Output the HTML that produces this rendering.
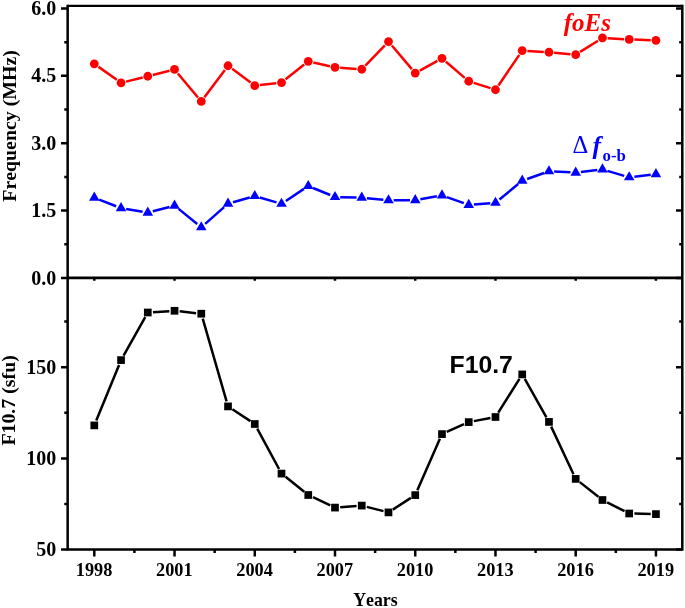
<!DOCTYPE html>
<html lang="en"><head><meta charset="utf-8"><title>foEs, Δf o-b and F10.7 vs Years</title>
<style>html,body{margin:0;padding:0;background:#fff}svg{display:block}</style></head>
<body>
<svg width="685" height="608" viewBox="0 0 685 608">
<rect width="685" height="608" fill="#fff"/>
<g stroke="#000" stroke-width="2.5" fill="none" stroke-linecap="butt">
<path d="M67.65 4.65V550.85M682.3 4.65V550.85M67.65 549.6H682.3"/>
<path d="M67.65 5.9H682.3" stroke-width="2.3"/>
<path d="M67.65 277.8H682.3" stroke-width="2.7"/>
<path d="M61 277.90H67.65M682.3 277.90H676.00M61 210.55H67.65M682.3 210.55H676.00M61 143.20H67.65M682.3 143.20H676.00M61 75.85H67.65M682.3 75.85H676.00M61 8.50H67.65M682.3 8.50H676.00M64.3 244.22H67.65M682.3 244.22H679.20M64.3 176.88H67.65M682.3 176.88H679.20M64.3 109.52H67.65M682.3 109.52H679.20M64.3 42.17H67.65M682.3 42.17H679.20M61 549.60H67.65M682.3 549.60H676.00M61 458.40H67.65M682.3 458.40H676.00M61 367.20H67.65M682.3 367.20H676.00M64.3 504.00H67.65M682.3 504.00H679.20M64.3 412.80H67.65M682.3 412.80H679.20M64.3 321.60H67.65M682.3 321.60H679.20M94.30 549.6V556.5M94.30 277.8V280.8M174.53 549.6V556.5M174.53 277.8V280.8M254.77 549.6V556.5M254.77 277.8V280.8M335.00 549.6V556.5M335.00 277.8V280.8M415.24 549.6V556.5M415.24 277.8V280.8M495.48 549.6V556.5M495.48 277.8V280.8M575.71 549.6V556.5M575.71 277.8V280.8M655.94 549.6V556.5M655.94 277.8V280.8M134.42 549.6V553M214.65 549.6V553M294.89 549.6V553M375.12 549.6V553M455.36 549.6V553M535.59 549.6V553M615.83 549.6V553"/>
</g>
<path d="M98.54 66.86L116.81 79.84M126.09 81.60L142.74 77.50M152.83 74.97L169.50 70.73M177.87 73.44L197.95 97.46M204.40 97.29L224.91 69.91M232.20 68.85L250.60 82.55M259.94 85.05L276.35 83.15M285.59 79.32L304.18 64.58M313.33 62.49L329.93 66.21M340.19 67.72L356.56 68.88M365.36 65.51L384.88 45.29M391.86 45.51L411.87 69.09M419.80 70.55L437.43 60.85M445.93 61.73L464.78 77.87M473.69 82.83L490.52 88.17M498.41 85.45L519.29 54.85M527.41 50.88L543.78 51.92M554.14 52.71L570.53 54.19M580.12 51.90L598.04 40.70M607.65 38.24L624.01 39.16M634.40 39.62L650.75 40.18" stroke="#f00" stroke-width="2.5" fill="none"/>
<path d="M99.15 199.58L116.20 206.22M126.17 208.96L142.66 211.74M152.82 211.28L169.50 206.92M178.57 208.88L197.24 224.02M205.18 223.86L224.13 207.14M233.02 202.26L249.77 197.44M259.76 197.46L276.52 202.34M285.84 200.92L303.93 188.88M313.07 187.98L330.20 195.02M340.20 197.14L356.55 197.56M366.93 198.20L383.32 199.80M393.69 200.26L410.04 200.14M420.36 199.20L436.86 196.30M446.89 197.14L463.83 203.16M473.91 204.49L490.29 203.21M499.48 199.49L518.21 184.01M527.13 178.98L544.06 173.02M554.16 171.55L570.52 172.35M580.87 171.98L597.29 170.02M607.44 170.87L624.21 175.83M634.37 176.70L650.78 174.80" stroke="#00f" stroke-width="2.5" fill="none"/>
<path d="M96.27 420.59L119.07 364.91M123.59 355.57L145.24 317.03M152.98 312.17L169.35 311.13M179.70 311.36L196.11 313.14M202.72 318.70L226.58 401.40M232.37 409.26L250.43 421.14M257.24 428.58L279.05 469.02M285.58 476.85L304.20 491.75M312.96 497.22L330.30 505.38M340.19 507.21L356.56 505.99M366.79 506.88L383.46 511.12M392.86 509.58L410.87 497.92M417.33 490.34L439.90 438.86M446.73 431.97L463.99 424.23M473.84 421.13L490.37 417.97M498.24 412.60L519.46 378.80M524.77 378.93L546.41 417.37M551.17 426.61L573.50 474.19M579.79 482.12L598.37 496.78M607.10 502.34L624.56 511.16M634.40 513.62L650.75 513.98" stroke="#000" stroke-width="2.5" fill="none"/>
<g fill="#f00"><circle cx="94.30" cy="63.85" r="4.4"/><circle cx="121.05" cy="82.85" r="4.4"/><circle cx="147.79" cy="76.25" r="4.4"/><circle cx="174.53" cy="69.45" r="4.4"/><circle cx="201.28" cy="101.45" r="4.4"/><circle cx="228.02" cy="65.75" r="4.4"/><circle cx="254.77" cy="85.65" r="4.4"/><circle cx="281.51" cy="82.55" r="4.4"/><circle cx="308.26" cy="61.35" r="4.4"/><circle cx="335.00" cy="67.35" r="4.4"/><circle cx="361.75" cy="69.25" r="4.4"/><circle cx="388.50" cy="41.55" r="4.4"/><circle cx="415.24" cy="73.05" r="4.4"/><circle cx="441.99" cy="58.35" r="4.4"/><circle cx="468.73" cy="81.25" r="4.4"/><circle cx="495.48" cy="89.75" r="4.4"/><circle cx="522.22" cy="50.55" r="4.4"/><circle cx="548.97" cy="52.25" r="4.4"/><circle cx="575.71" cy="54.65" r="4.4"/><circle cx="602.46" cy="37.95" r="4.4"/><circle cx="629.20" cy="39.45" r="4.4"/><circle cx="655.94" cy="40.35" r="4.4"/></g>
<g fill="#00f"><path d="M94.30 191.60L99.58 200.75H89.02Z"/><path d="M121.05 202.00L126.33 211.15H115.76Z"/><path d="M147.79 206.50L153.07 215.65H142.51Z"/><path d="M174.53 199.50L179.82 208.65H169.25Z"/><path d="M201.28 221.20L206.56 230.35H196.00Z"/><path d="M228.02 197.60L233.31 206.75H222.74Z"/><path d="M254.77 189.90L260.05 199.05H249.49Z"/><path d="M281.51 197.70L286.80 206.85H276.23Z"/><path d="M308.26 179.90L313.54 189.05H302.98Z"/><path d="M335.00 190.90L340.29 200.05H329.72Z"/><path d="M361.75 191.60L367.03 200.75H356.47Z"/><path d="M388.50 194.20L393.78 203.35H383.21Z"/><path d="M415.24 194.00L420.52 203.15H409.96Z"/><path d="M441.99 189.30L447.27 198.45H436.70Z"/><path d="M468.73 198.80L474.01 207.95H463.45Z"/><path d="M495.48 196.70L500.76 205.85H490.19Z"/><path d="M522.22 174.60L527.50 183.75H516.94Z"/><path d="M548.97 165.20L554.25 174.35H543.68Z"/><path d="M575.71 166.50L580.99 175.65H570.43Z"/><path d="M602.46 163.30L607.74 172.45H597.17Z"/><path d="M629.20 171.20L634.48 180.35H623.92Z"/><path d="M655.94 168.10L661.23 177.25H650.66Z"/></g>
<g fill="#000"><rect x="90.45" y="421.55" width="7.7" height="7.7"/><rect x="117.20" y="356.25" width="7.7" height="7.7"/><rect x="143.94" y="308.65" width="7.7" height="7.7"/><rect x="170.69" y="306.95" width="7.7" height="7.7"/><rect x="197.43" y="309.85" width="7.7" height="7.7"/><rect x="224.17" y="402.55" width="7.7" height="7.7"/><rect x="250.92" y="420.15" width="7.7" height="7.7"/><rect x="277.66" y="469.75" width="7.7" height="7.7"/><rect x="304.41" y="491.15" width="7.7" height="7.7"/><rect x="331.15" y="503.75" width="7.7" height="7.7"/><rect x="357.90" y="501.75" width="7.7" height="7.7"/><rect x="384.64" y="508.55" width="7.7" height="7.7"/><rect x="411.39" y="491.25" width="7.7" height="7.7"/><rect x="438.13" y="430.25" width="7.7" height="7.7"/><rect x="464.88" y="418.25" width="7.7" height="7.7"/><rect x="491.62" y="413.15" width="7.7" height="7.7"/><rect x="518.37" y="370.55" width="7.7" height="7.7"/><rect x="545.12" y="418.05" width="7.7" height="7.7"/><rect x="571.86" y="475.05" width="7.7" height="7.7"/><rect x="598.61" y="496.15" width="7.7" height="7.7"/><rect x="625.35" y="509.65" width="7.7" height="7.7"/><rect x="652.09" y="510.25" width="7.7" height="7.7"/></g>
<g font-family="'Liberation Serif', 'Times New Roman', serif" font-weight="bold" fill="#000" style="font-kerning:none">
<text transform="translate(56.2 284.50) scale(1 1.04)" font-size="20.0" text-anchor="end">0.0</text>
<text transform="translate(56.2 217.15) scale(1 1.04)" font-size="20.0" text-anchor="end">1.5</text>
<text transform="translate(56.2 149.80) scale(1 1.04)" font-size="20.0" text-anchor="end">3.0</text>
<text transform="translate(56.2 82.45) scale(1 1.04)" font-size="20.0" text-anchor="end">4.5</text>
<text transform="translate(56.2 15.10) scale(1 1.04)" font-size="20.0" text-anchor="end">6.0</text>
<text transform="translate(56.2 556.20) scale(1 1.04)" font-size="20.0" text-anchor="end">50</text>
<text transform="translate(56.2 465.00) scale(1 1.04)" font-size="20.0" text-anchor="end">100</text>
<text transform="translate(56.2 373.80) scale(1 1.04)" font-size="20.0" text-anchor="end">150</text>
<text transform="translate(94.10 576) scale(1 1.06)" font-size="18.3" text-anchor="middle">1998</text>
<text transform="translate(174.34 576) scale(1 1.06)" font-size="18.3" text-anchor="middle">2001</text>
<text transform="translate(254.57 576) scale(1 1.06)" font-size="18.3" text-anchor="middle">2004</text>
<text transform="translate(334.81 576) scale(1 1.06)" font-size="18.3" text-anchor="middle">2007</text>
<text transform="translate(415.04 576) scale(1 1.06)" font-size="18.3" text-anchor="middle">2010</text>
<text transform="translate(495.28 576) scale(1 1.06)" font-size="18.3" text-anchor="middle">2013</text>
<text transform="translate(575.51 576) scale(1 1.06)" font-size="18.3" text-anchor="middle">2016</text>
<text transform="translate(655.74 576) scale(1 1.06)" font-size="18.3" text-anchor="middle">2019</text>
<text transform="translate(16.45 201.7) rotate(-90)" font-size="19.85">Frequency (MHz)</text>
<text transform="translate(15.1 445.6) rotate(-90)" font-size="19.85">F10.7 (sfu)</text>
<text x="375.4" y="606.4" text-anchor="middle" font-size="17.8">Years</text>
</g>
<text x="563.8" y="31.35" font-family="'Liberation Serif', 'Times New Roman', serif" font-weight="bold" font-style="italic" font-size="25" fill="#f00" style="font-kerning:none">foEs</text>
<text font-family="'Liberation Serif', 'Times New Roman', serif" fill="#00f" font-size="24.5"><tspan x="572.6" y="153.4">Δ</tspan> <tspan x="592.6" y="153.6" font-size="25.5" font-weight="bold" font-style="italic">f</tspan><tspan x="602.6" y="160.5" font-size="16.8" font-weight="bold">o-b</tspan></text>
<text x="449.5" y="373.2" font-family="'Liberation Sans', Arial, sans-serif" font-weight="bold" font-size="24.8" fill="#000">F10.7</text>
</svg>
</body></html>
